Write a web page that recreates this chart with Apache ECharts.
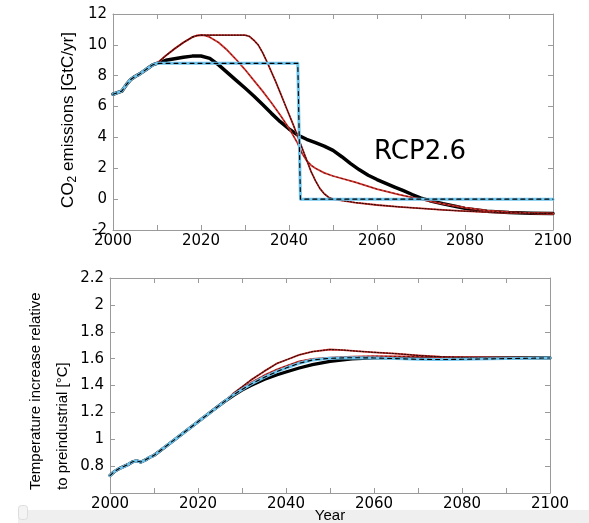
<!DOCTYPE html>
<html>
<head>
<meta charset="utf-8">
<script src="https://cdn.jsdelivr.net/npm/echarts@6/dist/echarts.min.js"></script>
<style>
html,body{margin:0;padding:0;background:#fff;}
#chart{width:589px;height:523px;}
</style>
</head>
<body>
<div id="chart"></div>
<script>
// ---------- Data ----------
// Shared emissions history (GtC/yr)
var histYears = [2000,2001,2002,2003,2004,2005,2006,2007,2008,2009,2010];
var histCO2   = [6.8,6.9,7.0,7.4,7.75,7.95,8.1,8.3,8.5,8.7,8.8];

// RCP2.6 emissions (thick black)
var rcpYears = [2012,2014,2016,2018,2020,2022,2024,2026,2028,2030,2032,2034,2036,2038,2040,2042,2044,2046,2048,2050,2052,2054,2056,2058,2060,2062,2064,2066,2068,2070,2072,2075,2078,2080,2085,2090,2095,2100];
var rcpCO2   = [9.0,9.1,9.2,9.27,9.28,9.12,8.7,8.2,7.7,7.2,6.68,6.13,5.56,5.02,4.55,4.15,3.88,3.66,3.44,3.16,2.75,2.3,1.9,1.55,1.27,1.02,0.78,0.55,0.3,0.07,-0.1,-0.3,-0.48,-0.6,-0.78,-0.87,-0.91,-0.93];

// Step pathway (blue dashed)
var stepYears = [2042,2042.6,2100];
var stepCO2   = [8.8,0,0];

// Pathway peaking in 2020 (red)
var peakAYears = [2012,2014,2016,2018,2019,2020,2021,2022,2024,2026,2028,2030,2032,2034,2036,2038,2040,2042,2043,2044,2045,2046,2048,2050,2055,2060,2065,2070,2075,2080,2085,2090,2095,2100];
var peakACO2   = [9.3,9.75,10.15,10.5,10.6,10.63,10.6,10.5,10.15,9.65,9.05,8.4,7.7,7.0,6.25,5.45,4.6,3.6,2.95,2.5,2.2,2.0,1.7,1.5,1.1,0.65,0.3,-0.02,-0.3,-0.55,-0.75,-0.85,-0.9,-0.93];

// Pathway with plateau to 2030 (dark red)
var peakBYears = [2012,2014,2016,2018,2019,2020,2025,2030,2031,2032,2033,2034,2035,2036,2037,2038,2039,2040,2041,2042,2043,2044,2045,2046,2047,2048,2049,2050,2055,2060,2065,2070,2075,2080,2085,2090,2095,2100];
var peakBCO2   = [9.3,9.75,10.15,10.5,10.6,10.63,10.63,10.63,10.55,10.3,10.0,9.5,8.9,8.25,7.6,6.9,6.2,5.5,4.8,4.05,3.3,2.55,1.8,1.2,0.7,0.35,0.12,0.0,-0.22,-0.38,-0.5,-0.6,-0.7,-0.78,-0.84,-0.89,-0.92,-0.95];

// Shared temperature history (deg C)
var histTYears = [2000,2001,2002,2003,2004,2005,2006,2007,2008,2009,2010,2012,2014,2016,2018,2020,2022,2024,2026];
var histT      = [0.73,0.76,0.78,0.795,0.81,0.83,0.84,0.83,0.845,0.865,0.88,0.93,0.98,1.03,1.08,1.13,1.18,1.23,1.28];

var rcpTYears = [2028,2030,2032,2035,2038,2040,2043,2046,2050,2055,2060,2070,2080,2090,2100];
var rcpT      = [1.325,1.365,1.40,1.445,1.48,1.50,1.53,1.555,1.58,1.598,1.605,1.608,1.605,1.605,1.605];

var stepTYears = [2028,2030,2032,2035,2038,2040,2043,2046,2050,2055,2060,2065,2070,2075,2080,2090,2100];
var stepT      = [1.33,1.37,1.41,1.46,1.505,1.53,1.565,1.59,1.603,1.607,1.605,1.6,1.595,1.593,1.595,1.6,1.605];

var peakATYears = [2028,2030,2032,2035,2038,2040,2043,2046,2050,2055,2060,2070,2080,2090,2100];
var peakAT      = [1.335,1.38,1.42,1.475,1.52,1.545,1.58,1.598,1.608,1.615,1.618,1.615,1.61,1.607,1.605];

var peakBTYears = [2028,2030,2032,2035,2038,2040,2043,2046,2050,2053,2056,2060,2065,2070,2075,2080,2090,2100];
var peakBT      = [1.34,1.39,1.44,1.505,1.565,1.59,1.628,1.652,1.668,1.664,1.656,1.647,1.637,1.624,1.614,1.609,1.606,1.605];

// Axis ticks
var yearTicks = [2000,2020,2040,2060,2080,2100];
var co2Range = [-2, 12, 2];
var tRange = [0.6, 2.2, 0.2];

// ---------- Helpers ----------
function zip(xs, ys){ var o=[]; for (var i=0;i<xs.length;i++) o.push([xs[i], ys[i]]); return o; }
function withHist(hx, hy, xs, ys){ return zip(hx.concat(xs), hy.concat(ys)); }

var TICK_FONT = 'DejaVu Sans';
var axisGray = '#9a9a9a';

function xAx(grid, pos, labels){
  return {
    type:'value', gridIndex:grid, position:pos, min:2000, max:2100, interval:10,
    axisLine:{show:true, onZero:false, lineStyle:{color:axisGray, width:1}},
    axisTick:{show:true, inside:true, length:5, lineStyle:{color:axisGray}},
    axisLabel:{show:labels, margin:4, color:'#000', fontSize:15, fontFamily:TICK_FONT,
      formatter:function(v){ return yearTicks.indexOf(v) >= 0 ? String(v) : ''; }},
    splitLine:{show:false}
  };
}
function yAx(grid, pos, r, labels, hideMin){
  return {
    type:'value', gridIndex:grid, position:pos, min:r[0], max:r[1], interval:r[2],
    axisLine:{show:true, onZero:false, lineStyle:{color:axisGray, width:1}},
    axisTick:{show:true, inside:true, length:5, lineStyle:{color:axisGray}},
    axisLabel:{show:labels, margin:6, color:'#000', fontSize:15, fontFamily:TICK_FONT,
      formatter:function(v){ if (hideMin && Math.abs(v-r[0])<1e-6) return ''; return String(Math.round(v*10)/10); }},
    splitLine:{show:false}
  };
}

function line(data, xi, yi, color, width, type, z, opacity){
  return {
    type:'line', xAxisIndex:xi, yAxisIndex:yi, data:data, showSymbol:false, symbol:'none',
    smooth:false,
    lineStyle:{color:color, width:width, type:type || 'solid', opacity: opacity === undefined ? 1 : opacity,
      cap:'round', join:'round'},
    z:z, silent:true, animation:false
  };
}

var blackCO2 = withHist(histYears, histCO2, rcpYears, rcpCO2);
var blueCO2  = withHist(histYears, histCO2, stepYears, stepCO2);
var redACO2  = withHist(histYears, histCO2, peakAYears, peakACO2);
var redBCO2  = withHist(histYears, histCO2, peakBYears, peakBCO2);

var blackT = withHist(histTYears, histT, rcpTYears, rcpT);
var blueT  = withHist(histTYears, histT, stepTYears, stepT);
var redAT  = withHist(histTYears, histT, peakATYears, peakAT);
var redBT  = withHist(histTYears, histT, peakBTYears, peakBT);

var RED = '#d8322c';
var BLUE = '#6cc3ec';

var series = [
  // top panel
  line(blackCO2, 0, 0, '#000', 3.5, 'solid', 2),
  line(redACO2, 0, 0, RED, 1.8, 'solid', 3),
  line(redACO2, 0, 0, '#2a0808', 0.9, [1.5,3], 4, 0.8),
  line(redBCO2, 0, 0, RED, 1.8, 'solid', 3),
  line(redBCO2, 0, 0, '#1a0505', 1.1, [1.5,1.5], 4, 0.9),
  line(blueCO2, 0, 0, BLUE, 3, 'solid', 5),
  line(blueCO2, 0, 0, '#000', 1.1, [4,4], 6),
  // bottom panel
  line(blackT, 2, 2, '#000', 3.2, 'solid', 2),
  line(redAT, 2, 2, RED, 1.8, 'solid', 3),
  line(redAT, 2, 2, '#2a0808', 0.9, [1.5,3], 4, 0.8),
  line(redBT, 2, 2, RED, 1.8, 'solid', 3),
  line(redBT, 2, 2, '#1a0505', 1.1, [1.5,1.5], 4, 0.9),
  line(blueT, 2, 2, BLUE, 3, 'solid', 5),
  line(blueT, 2, 2, '#000', 1.1, [4,4], 6)
];

var chart = echarts.init(document.getElementById('chart'), null, {renderer:'canvas'});
chart.setOption({
  backgroundColor:'#fff',
  animation:false,
  grid:[
    {left:113, top:14, width:440, height:216},
    {left:110, top:278, width:440, height:215}
  ],
  xAxis:[ xAx(0,'bottom',true), xAx(0,'top',false), xAx(1,'bottom',true), xAx(1,'top',false) ],
  yAxis:[ yAx(0,'left',co2Range,true,false), yAx(0,'right',co2Range,false,false),
          yAx(1,'left',tRange,true,true), yAx(1,'right',tRange,false,false) ],
  series:series,
  graphic:[
    {type:'rect', left:18, top:510, shape:{width:571, height:13}, style:{fill:'#efefef'}, z:-1, silent:true},
    {type:'rect', left:18, top:505, shape:{width:9, height:14, r:3}, style:{fill:'#f4f4f4', stroke:'#dddddd'}, z:-1, silent:true},
    {type:'text', x:420, y:152, z:10, silent:true,
      style:{text:'RCP2.6', fill:'#000', font:'26px "DejaVu Sans"', textAlign:'center', textVerticalAlign:'middle'}},
    {type:'text', x:68, y:120, rotation:Math.PI/2, z:10, silent:true,
      style:{text:'CO{sub|2} emissions [GtC/yr]', fill:'#000', textAlign:'center', textVerticalAlign:'middle',
        fontSize:17, fontFamily:'Liberation Sans',
        rich:{sub:{fontSize:12, fontFamily:'Liberation Sans', fill:'#000', padding:[9,0,0,0]}}}},
    {type:'text', x:36, y:490, rotation:Math.PI/2, z:10, silent:true,
      style:{text:'Temperature increase relative', fill:'#000', textAlign:'left', textVerticalAlign:'middle',
        font:'15px "Liberation Sans"'}},
    {type:'text', x:63, y:490, rotation:Math.PI/2, z:10, silent:true,
      style:{text:'to preindustrial [°C]', fill:'#000', textAlign:'left', textVerticalAlign:'middle',
        font:'15px "Liberation Sans"'}},
    {type:'text', x:330, y:516, z:10, silent:true,
      style:{text:'Year', fill:'#000', textAlign:'center', textVerticalAlign:'middle', font:'15px "Liberation Sans"'}}
  ]
});
</script>
</body>
</html>
